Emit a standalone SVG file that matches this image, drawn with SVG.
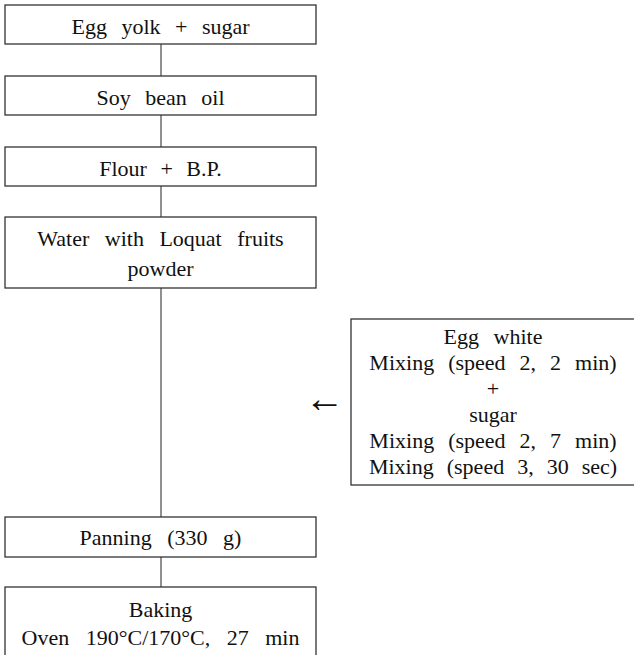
<svg xmlns="http://www.w3.org/2000/svg" width="634" height="655" viewBox="0 0 634 655">
<defs>
<style>
.box{fill:#fff;stroke:#333;stroke-width:1.3}
.c{stroke:#555;stroke-width:1.3;fill:none}
</style>
</defs>
<rect width="634" height="655" fill="#fff"/>
<g font-family="Liberation Serif, Times New Roman, serif" font-size="22" fill="#111" text-anchor="middle">
<g id="connectors">
<line class="c" x1="161" y1="44" x2="161" y2="76"/>
<line class="c" x1="161" y1="115" x2="161" y2="147"/>
<line class="c" x1="161" y1="186" x2="161" y2="217"/>
<line class="c" x1="161" y1="288" x2="161" y2="517"/>
<line class="c" x1="161" y1="557" x2="161" y2="587"/>
<text x="324.5" y="412" font-size="40">←</text>
</g>
<g id="n1">
<rect class="box" x="5" y="5" width="311" height="39"/>
<text x="160.5" y="34" word-spacing="9">Egg yolk + sugar</text>
</g>
<g id="n2">
<rect class="box" x="5" y="76" width="311" height="39"/>
<text x="160.5" y="105" word-spacing="9">Soy bean oil</text>
</g>
<g id="n3">
<rect class="box" x="5" y="147" width="311" height="39"/>
<text x="160.5" y="175.5" word-spacing="8">Flour + B.P.</text>
</g>
<g id="n4">
<rect class="box" x="5" y="217" width="311" height="71"/>
<text x="160.5" y="245.5" word-spacing="10">Water with Loquat fruits</text>
<text x="160.5" y="276">powder</text>
</g>
<g id="n5">
<rect class="box" x="351" y="319" width="284" height="166"/>
<text x="493" y="344" word-spacing="9">Egg white</text>
<text x="493" y="370" word-spacing="8.5">Mixing (speed 2, 2 min)</text>
<text x="493" y="396">+</text>
<text x="493" y="422">sugar</text>
<text x="493" y="448" word-spacing="8.5">Mixing (speed 2, 7 min)</text>
<text x="493" y="474" word-spacing="7.5">Mixing (speed 3, 30 sec)</text>
</g>
<g id="n6">
<rect class="box" x="5" y="517" width="311" height="40"/>
<text x="160.5" y="545" word-spacing="10">Panning (330 g)</text>
</g>
<g id="n7">
<rect class="box" x="5" y="587" width="311" height="80"/>
<text x="160.5" y="616.5">Baking</text>
<text x="160.5" y="645" word-spacing="11">Oven 190°C/170°C, 27 min</text>
</g>
</g>
</svg>
